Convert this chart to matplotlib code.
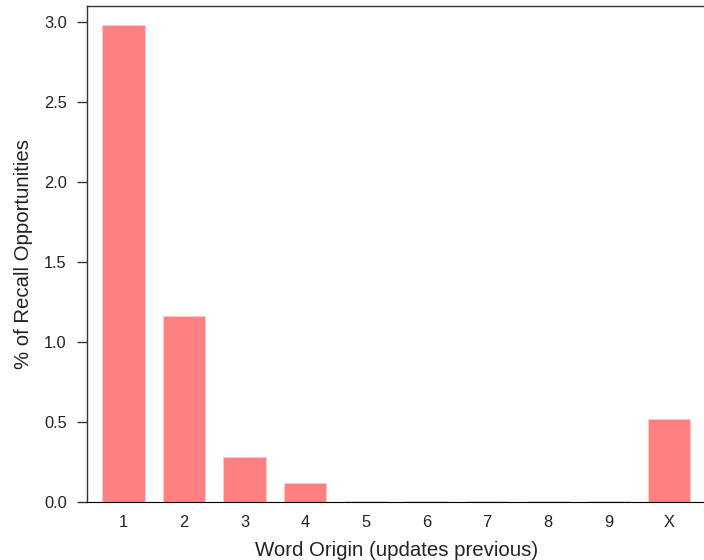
import matplotlib
matplotlib.use("Agg")
import matplotlib.pyplot as plt

categories = ["1", "2", "3", "4", "5", "6", "7", "8", "9", "X"]
values = [2.98, 1.163, 0.284, 0.12, 0.008, 0.008, 0.008, 0.008, 0.008, 0.52]
yticks = [0.0, 0.5, 1.0, 1.5, 2.0, 2.5, 3.0]

plt.rcParams["font.family"] = ["Liberation Sans", "DejaVu Sans"]

fig = plt.figure(figsize=(7.04, 5.6), dpi=100)
ax = fig.add_axes([87 / 704, 58 / 560, (705.4 - 87) / 704, (502 - 6) / 560])

positions = list(range(1, len(categories) + 1))
ax.bar(positions, values, width=0.7, color="#ff8080", edgecolor="#ffd0d0", linewidth=0.4)

ax.set_xlim(0.4, 10.6)
ax.set_ylim(0, 3.1)
ax.set_xticks(positions)
ax.set_xticklabels(categories)
ax.set_yticks(yticks)
ax.set_yticklabels([f"{t:.1f}" for t in yticks])

ax.tick_params(axis="x", length=0, pad=9.5, labelsize=11.8, colors="#222222")
ax.tick_params(axis="y", length=7.5, width=1, pad=7, labelsize=11.8, colors="#333333", labelcolor="#222222")

for side in ("left", "top"):
    ax.spines[side].set_color("#333333")
    ax.spines[side].set_linewidth(1)
ax.spines["bottom"].set_color("#000000")
ax.spines["right"].set_visible(False)

ax.set_xlabel("Word Origin (updates previous)", fontsize=14.7, labelpad=7.5, color="#222222")
ax.set_ylabel("% of Recall Opportunities", fontsize=14.7, labelpad=8, color="#222222")

fig.savefig("out.png", dpi=100)
